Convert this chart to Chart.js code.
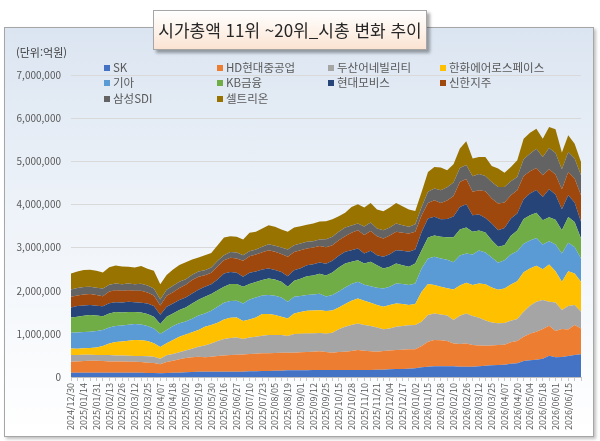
<!DOCTYPE html>
<html lang="ko">
<head>
<meta charset="utf-8">
<title>시가총액 11위 ~20위_시총 변화 추이</title>
<script src="https://cdn.jsdelivr.net/npm/chart.js@4.4.1/dist/chart.umd.min.js"></script>
<style>
  html, body { margin: 0; padding: 0; background: #ffffff; }
  body { width: 600px; height: 441px; position: relative; overflow: hidden;
         font-family: "Noto Sans CJK KR", "Noto Sans", sans-serif; }
  #frame { position: absolute; left: 4px; top: 27px; width: 588px; height: 408px;
           border: 1px solid #a6a6a6;
           background: linear-gradient(to bottom, #dbe5f1 0%, #eef3f9 45%, #ffffff 100%);
           box-shadow: 2px 2px 3px rgba(0,0,0,0.25); }
  #chart { position: absolute; left: 0; top: 0; }
  #title { position: absolute; left: 153px; top: 10px; width: 272px; height: 38px;
           border: 1px solid #a6a6a6;
           background: linear-gradient(to bottom, #ffffff 0%, #fdf0e6 60%, #fbe3d2 100%);
           box-shadow: 3px 3px 3px rgba(0,0,0,0.35);
           font-size: 17px; line-height: 38px; text-align: center; color: #262626; }
  #unit { position: absolute; left: 16px; top: 44px; font-size: 11px; line-height: 16px; color: #404040; }
  .lg { position: absolute; font-size: 11.5px; line-height: 16px; color: #595959; white-space: nowrap; }
  .lg i { display: inline-block; width: 6px; height: 6px; margin-right: 3px; vertical-align: 1px; }
</style>
</head>
<body>
<div id="frame"></div>
<canvas id="chart" width="600" height="441"></canvas>
<div id="unit">(단위:억원)</div>
<div id="legend"></div>
<div id="title">시가총액 11위 ~20위_시총 변화 추이</div>

<script>
// tick dates shown on the x axis (every 9th trading day)
const tickDates = [
    '2024/12/30', '2025/01/14', '2025/01/31', '2025/02/13', '2025/02/26', '2025/03/12', '2025/03/25', '2025/04/07',
    '2025/04/18', '2025/05/02', '2025/05/19', '2025/05/30', '2025/06/16', '2025/06/27', '2025/07/10', '2025/07/23',
    '2025/08/05', '2025/08/19', '2025/09/01', '2025/09/12', '2025/09/25', '2025/10/15', '2025/10/28', '2025/11/10',
    '2025/11/21', '2025/12/04', '2025/12/17', '2026/01/02', '2026/01/15', '2026/01/28', '2026/02/10', '2026/02/26',
    '2026/03/12', '2026/03/25', '2026/04/07', '2026/04/20', '2026/05/04', '2026/05/18', '2026/06/01', '2026/06/15'
];

const seriesNames = ['SK', 'HD현대중공업', '두산어네빌리티', '한화에어로스페이스', '기아', 'KB금융', '현대모비스', '신한지주', '삼성SDI', '셀트리온'];
const seriesColors = ['#4472c4', '#ed7d31', '#a5a5a5', '#ffc000', '#5b9bd5', '#70ad47', '#264478', '#9e480e', '#636363', '#997300'];

// market cap (억원), one value per half tick interval
const sk = [
    100000, 100000, 100000, 100000, 100000, 100000, 100000, 100000, 100000, 100000, 100000, 100000,
    93000, 93000, 85000, 93000, 100000, 100000, 108000, 116000,
    123000, 123000, 123000, 123000, 123000, 123000, 123000, 123000,
    131000, 131000, 139000, 139000, 147000, 147000,
    154000, 154000, 154000, 154000,
    162000, 162000, 162000, 162000, 162000, 162000, 162000, 162000, 162000, 162000,
    170000, 170000, 177000, 185000, 185000, 193000, 201000,
    224000, 239000, 247000, 247000, 247000, 247000, 239000, 239000, 239000,
    247000, 262000, 270000, 278000, 285000, 309000, 316000, 370000, 386000, 401000, 424000,
    494000, 455000, 463000, 486000, 509000, 525000
];
const hdHeavy = [
    255000, 262000, 270000, 278000, 278000, 270000, 262000, 262000, 262000, 255000, 255000, 247000,
    239000, 231000, 208000, 255000, 278000, 309000, 332000, 340000,
    347000, 332000, 347000, 363000, 378000, 386000, 394000, 401000,
    401000, 409000, 409000, 409000, 409000, 417000, 409000, 409000, 417000, 424000, 424000, 432000,
    417000, 401000, 417000, 424000, 440000, 463000, 448000, 432000, 417000, 432000,
    440000, 440000, 448000, 448000, 440000, 494000, 579000, 610000, 602000, 586000,
    532000, 525000, 540000, 502000, 486000, 463000, 463000, 463000, 463000, 494000,
    517000, 563000, 617000, 648000, 687000, 694000, 610000, 648000, 617000, 694000, 602000
];
const doosan = [
    154000, 147000, 147000, 139000, 131000, 139000, 147000, 139000, 139000, 139000, 131000, 139000,
    147000, 147000, 131000, 154000, 154000, 162000, 177000, 201000,
    231000, 278000, 309000, 347000, 378000, 394000, 401000, 355000,
    386000, 394000, 409000, 424000, 417000, 409000, 386000, 432000, 432000, 432000, 424000, 424000,
    424000, 463000, 525000, 579000, 602000, 617000, 594000, 586000, 563000, 502000,
    509000, 540000, 548000, 556000, 563000, 563000, 617000, 617000, 602000, 594000,
    540000, 656000, 694000, 671000, 640000, 586000, 532000, 502000, 502000, 502000,
    509000, 579000, 648000, 694000, 671000, 556000, 664000, 440000, 540000, 463000, 386000
];
const hanwha = [
    154000, 147000, 147000, 154000, 177000, 208000, 270000, 309000, 324000, 347000, 370000, 363000,
    355000, 309000, 270000, 278000, 324000, 363000, 370000, 378000,
    386000, 432000, 424000, 424000, 455000, 471000, 463000, 417000,
    417000, 448000, 502000, 486000, 463000, 424000, 409000, 478000, 502000, 525000, 532000, 532000,
    525000, 517000, 509000, 525000, 563000, 579000, 563000, 540000, 517000, 525000,
    540000, 540000, 509000, 471000, 486000, 694000, 718000, 656000, 640000, 633000,
    710000, 702000, 710000, 718000, 795000, 841000, 810000, 779000, 802000, 841000,
    880000, 918000, 864000, 833000, 718000, 864000, 725000, 656000, 810000, 733000, 694000
];
const kia = [
    363000, 378000, 378000, 378000, 378000, 370000, 370000, 370000, 370000, 370000, 370000, 370000,
    347000, 347000, 301000, 309000, 324000, 309000, 301000, 316000,
    340000, 309000, 332000, 370000, 386000, 386000, 386000, 409000,
    463000, 463000, 432000, 440000, 448000, 448000, 386000, 386000, 370000, 363000, 370000, 378000,
    340000, 355000, 370000, 386000, 386000, 386000, 370000, 386000, 401000, 424000,
    424000, 463000, 463000, 463000, 478000, 540000, 594000, 656000, 656000, 656000,
    633000, 694000, 679000, 710000, 764000, 733000, 694000, 625000, 656000, 694000,
    694000, 656000, 648000, 648000, 571000, 540000, 617000, 656000, 656000, 617000, 540000
];
const kbFinancial = [
    355000, 363000, 378000, 386000, 363000, 324000, 324000, 324000, 301000, 293000, 278000, 278000,
    278000, 270000, 231000, 309000, 293000, 309000, 324000, 355000,
    363000, 386000, 386000, 386000, 370000, 394000, 386000, 386000,
    355000, 355000, 355000, 386000, 378000, 363000, 347000, 370000, 401000, 440000, 440000, 463000,
    486000, 525000, 556000, 556000, 517000, 502000, 494000, 563000, 525000, 463000,
    463000, 463000, 440000, 424000, 463000, 424000, 486000, 494000, 502000, 525000,
    579000, 602000, 602000, 525000, 463000, 463000, 401000, 370000, 347000, 432000,
    478000, 579000, 586000, 586000, 563000, 556000, 571000, 540000, 602000, 579000, 463000
];
const mobis = [
    231000, 247000, 239000, 231000, 224000, 231000, 239000, 231000, 231000, 239000, 231000, 224000,
    247000, 247000, 216000, 231000, 231000, 231000, 231000, 231000,
    231000, 231000, 231000, 247000, 309000, 278000, 262000, 231000,
    262000, 247000, 247000, 231000, 216000, 224000, 247000, 247000, 247000, 255000, 262000, 262000,
    270000, 270000, 270000, 270000, 270000, 270000, 231000, 255000, 231000, 270000,
    293000, 309000, 332000, 347000, 324000, 424000, 440000, 432000, 409000, 424000,
    478000, 525000, 540000, 386000, 370000, 340000, 386000, 386000, 401000, 401000,
    394000, 455000, 502000, 525000, 540000, 648000, 586000, 486000, 502000, 448000, 386000
];
const shinhan = [
    247000, 247000, 255000, 255000, 247000, 231000, 270000, 278000, 270000, 270000, 262000, 278000,
    255000, 247000, 216000, 255000, 262000, 278000, 293000, 309000,
    301000, 270000, 262000, 309000, 309000, 332000, 332000, 370000,
    386000, 394000, 401000, 424000, 424000, 417000, 448000, 424000, 417000, 386000, 386000, 386000,
    386000, 363000, 363000, 363000, 401000, 424000, 432000, 463000, 440000, 424000,
    432000, 424000, 417000, 424000, 409000, 386000, 363000, 386000, 378000, 424000,
    478000, 579000, 586000, 540000, 563000, 617000, 579000, 617000, 586000, 540000,
    540000, 540000, 517000, 509000, 502000, 463000, 463000, 463000, 540000, 556000, 617000
];
const samsungSdi = [
    170000, 170000, 170000, 170000, 170000, 177000, 154000, 154000, 154000, 154000, 154000, 162000,
    162000, 162000, 139000, 139000, 147000, 147000, 131000, 123000,
    123000, 116000, 123000, 123000, 116000, 131000, 139000, 131000,
    116000, 116000, 123000, 139000, 139000, 154000, 170000, 154000, 154000, 154000, 147000, 147000,
    185000, 193000, 193000, 201000, 170000, 154000, 193000, 193000, 177000, 193000,
    185000, 193000, 177000, 154000, 177000, 193000, 255000, 270000, 293000, 309000,
    309000, 324000, 324000, 363000, 378000, 355000, 386000, 386000, 363000, 324000,
    309000, 386000, 409000, 448000, 424000, 494000, 502000, 463000, 463000, 463000, 463000
];
const celltrion = [
    370000, 386000, 394000, 394000, 394000, 370000, 409000, 417000, 409000, 386000, 386000, 409000,
    386000, 409000, 355000, 340000, 378000, 386000, 394000, 355000,
    324000, 347000, 340000, 363000, 409000, 370000, 363000, 363000,
    424000, 409000, 424000, 440000, 440000, 417000, 409000, 409000, 401000, 394000, 409000, 417000,
    417000, 409000, 363000, 340000, 432000, 448000, 440000, 455000, 440000, 440000,
    463000, 478000, 440000, 401000, 309000, 347000, 463000, 502000, 525000, 394000,
    424000, 448000, 548000, 409000, 394000, 440000, 370000, 424000, 332000, 332000,
    386000, 478000, 486000, 463000, 424000, 486000, 548000, 386000, 386000, 347000, 309000
];

const seriesValues = [sk, hdHeavy, doosan, hanwha, kia, kbFinancial, mobis, shinhan, samsungSdi, celltrion];

// one label per data point: tick date on even points, blank between
const labels = [];
tickDates.forEach(d => { labels.push(d); labels.push(''); });
while (labels.length < sk.length) labels.push('');

const fontFamily = '"Noto Sans CJK KR", "Noto Sans", sans-serif';

// legend, 4 columns like the original
const legendBox = document.getElementById('legend');
const colX = [104, 217, 328, 440];
const rowY = [59, 74, 90];
seriesNames.forEach((name, i) => {
    const item = document.createElement('div');
    item.className = 'lg';
    item.style.left = colX[i % 4] + 'px';
    item.style.top = rowY[Math.floor(i / 4)] + 'px';
    item.innerHTML = '<i style="background:' + seriesColors[i] + '"></i>' + name;
    legendBox.appendChild(item);
});

const ctx = document.getElementById('chart').getContext('2d');
new Chart(ctx, {
    type: 'line',
    data: {
        labels: labels,
        datasets: seriesValues.map((vals, i) => ({
            label: seriesNames[i],
            data: vals,
            backgroundColor: seriesColors[i],
            borderColor: seriesColors[i],
            borderWidth: 0,
            pointRadius: 0,
            tension: 0,
            fill: i === 0 ? 'origin' : '-1'
        }))
    },
    options: {
        responsive: false,
        animation: false,
        layout: {
            padding: { left: 9, right: 19, top: 75, bottom: 4 }
        },
        plugins: {
            legend: { display: false },
            tooltip: { enabled: false }
        },
        scales: {
            x: {
                grid: {
                    drawOnChartArea: false,
                    drawTicks: true,
                    tickLength: 4,
                    color: '#c8c8c8'
                },
                border: { color: '#bfbfbf' },
                ticks: {
                    autoSkip: false,
                    minRotation: 90,
                    maxRotation: 90,
                    padding: 2,
                    color: '#595959',
                    font: { family: fontFamily, size: 9 }
                },
                afterFit: function(scale) {
                    scale.height = 60;
                }
            },
            y: {
                stacked: true,
                min: 0,
                max: 7000000,
                grid: {
                    color: '#d9d9d9',
                    drawTicks: false
                },
                border: { display: false },
                ticks: {
                    stepSize: 1000000,
                    padding: 10,
                    color: '#595959',
                    font: { family: fontFamily, size: 10 },
                    callback: function(value) {
                        return value.toLocaleString('en-US');
                    }
                },
                afterFit: function(scale) {
                    scale.width = 62;
                }
            }
        }
    }
});
</script>
</body>
</html>
